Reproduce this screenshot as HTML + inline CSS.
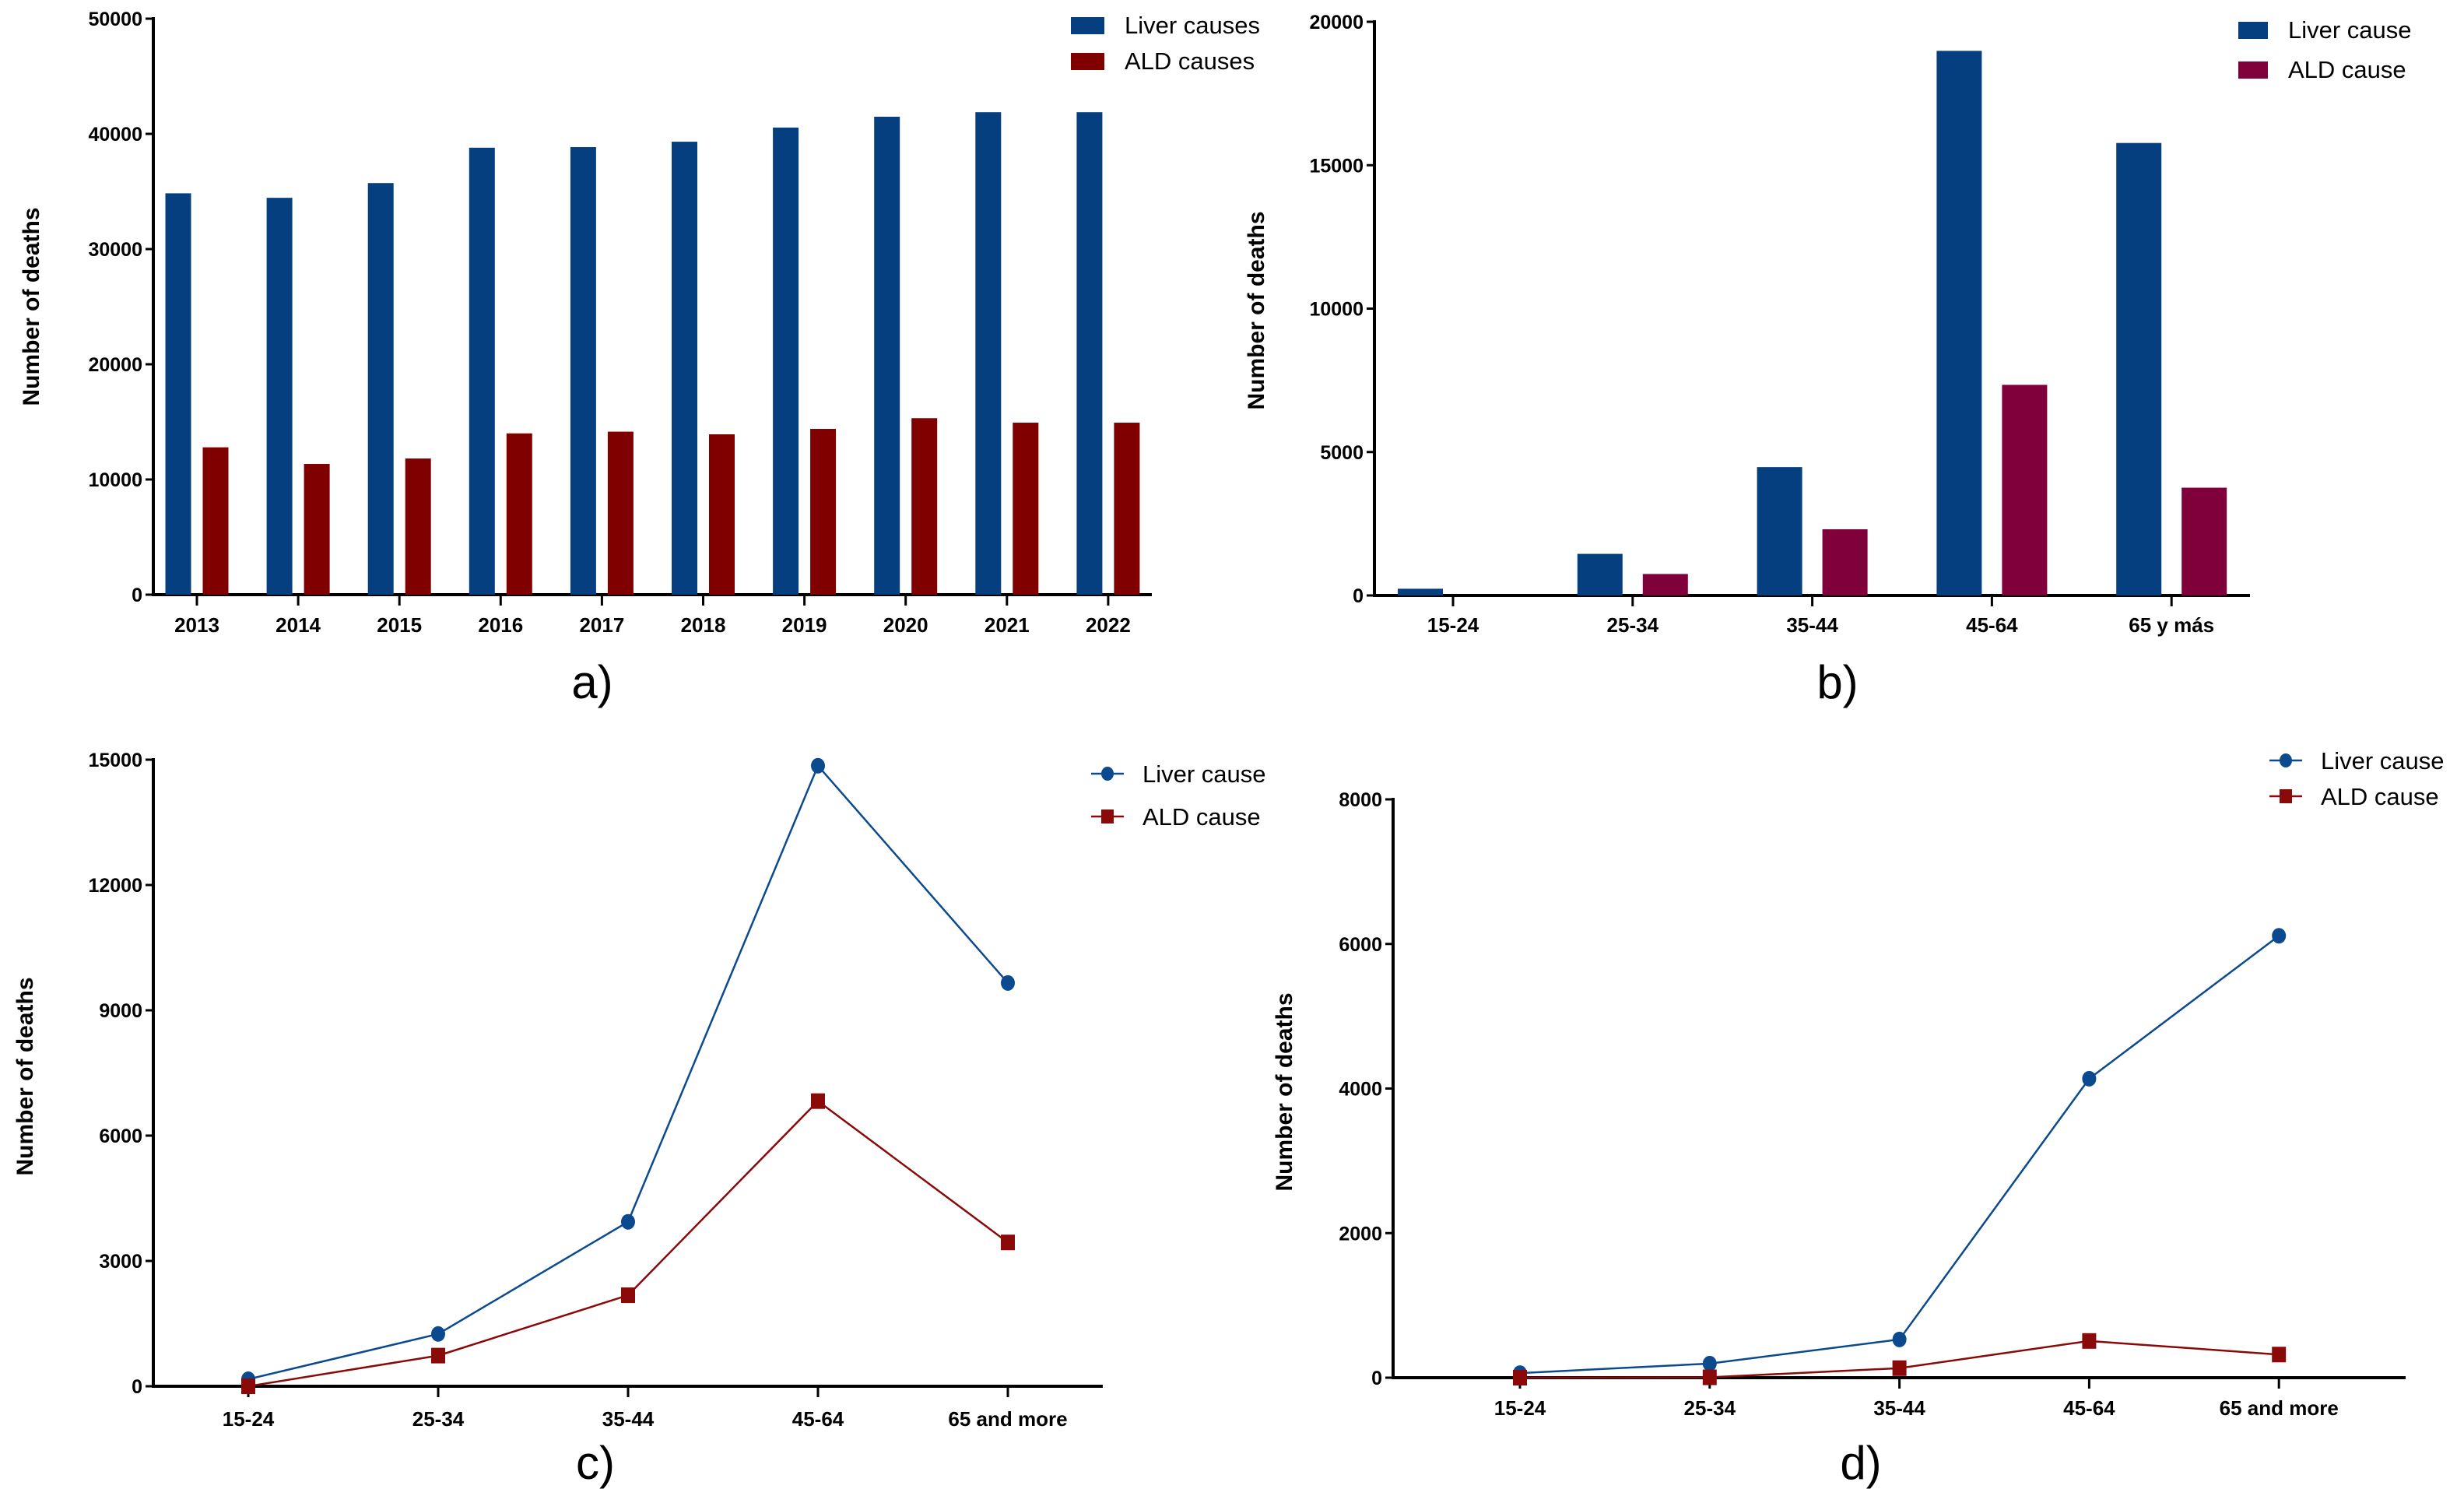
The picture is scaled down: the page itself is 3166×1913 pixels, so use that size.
<!DOCTYPE html>
<html><head><meta charset="utf-8"><style>
html,body{margin:0;padding:0;background:#fff}
svg{display:block}
text{font-family:"Liberation Sans",sans-serif}
</style></head><body>
<svg id="fig" width="3166" height="1913" viewBox="0 0 3166 1913" xmlns="http://www.w3.org/2000/svg"></svg>
<script>
const yearsA = ["2013","2014","2015","2016","2017","2018","2019","2020","2021","2022"];
const liverA = [34840,34450,35730,38800,38850,39320,40550,41490,41880,41880];
const aldA = [12790,11350,11820,14000,14150,13920,14390,15320,14930,14930];
const ticksA = [0,10000,20000,30000,40000,50000];

const ageB = ["15-24","25-34","35-44","45-64","65 y más"];
const liverB = [234,1450,4474,18987,15775];
const aldB = [0,748,2307,7342,3757];
const ticksB = [0,5000,10000,15000,20000];

const ageC = ["15-24","25-34","35-44","45-64","65 and more"];
const liverC = [169,1252,3937,14855,9655];
const aldC = [0,734,2179,6826,3443];
const ticksC = [0,3000,6000,9000,12000,15000];

const ageD = ["15-24","25-34","35-44","45-64","65 and more"];
const liverD = [63,195,529,4136,6113];
const aldD = [0,5,132,508,320];
const ticksD = [0,2000,4000,6000,8000];

const svg = document.getElementById('fig');
const NS = "http://www.w3.org/2000/svg";
function el(tag, attrs, parent){
  const e = document.createElementNS(NS, tag);
  for (const k in attrs) e.setAttribute(k, attrs[k]);
  (parent||svg).appendChild(e);
  return e;
}
function txt(s, attrs, parent){ const t = el('text', attrs, parent); t.textContent = s; return t; }

function axes(g, p, ticks, cats, title, label){
  const y = v => p.y0 - (v - 0) / p.max * (p.y0 - p.y1);
  const ax = el('line',{x1:p.x0,y1:p.y1-2,x2:p.x0,y2:p.y0+2,stroke:'#000','stroke-width':4},g);
   
  const bx = el('line',{x1:p.x0-2,y1:p.y0,x2:p.xEnd,y2:p.y0,stroke:'#000','stroke-width':4},g);
   
  ticks.forEach(v=>{
    el('line',{x1:p.x0-10,y1:y(v),x2:p.x0,y2:y(v),stroke:'#000','stroke-width':3},g);
    const t = txt(String(v),{x:p.x0-14,y:y(v)+9,'text-anchor':'end','font-size':25,'font-weight':'bold'},g);
     
  });
  cats.forEach((c,i)=>{
    const x = p.cx(i);
    el('line',{x1:x,y1:p.y0,x2:x,y2:p.y0+14,stroke:'#000','stroke-width':3},g);
    const t = txt(c,{x:x,y:p.labY,'text-anchor':'middle','font-size':26,'font-weight':'bold'},g);
     
  });
  const tt = txt(title,{x:0,y:0,'text-anchor':'middle','font-size':30,'font-weight':'bold',transform:`translate(${p.tx},${p.ty}) rotate(-90)`},g);
   
  const pl = txt(label,{x:p.lx,y:p.ly,'text-anchor':'middle','font-size':60},g);
   
  return y;
}

function barPanel(name, p, cats, s1, s2, ticks, c1, c2, n1, n2, label){
  const g = el('g',{});  
  const y = axes(g,p,ticks,cats,'Number of deaths',label);
  cats.forEach((c,i)=>{
    const x = p.cx(i);
    const b1 = el('rect',{x:x-p.off-p.bw/2,y:y(s1[i]),width:p.bw,height:p.y0-y(s1[i]),fill:c1},g);
     
    const b2 = el('rect',{x:x+p.off-p.bw/2,y:y(s2[i]),width:p.bw,height:p.y0-y(s2[i]),fill:c2},g);
     
  });
  [[n1,c1,p.lgY1],[n2,c2,p.lgY2]].forEach(([n,c,ly])=>{
    const lg = el('g',{},g);  
    el('rect',{x:p.lgX,y:ly,width:p.lgW,height:22,fill:c},lg);
    txt(n,{x:p.lgX+p.lgW+26,y:ly+21,'font-size':31},lg);
  });
}

function linePanel(name, p, cats, s1, s2, ticks, label){
  const g = el('g',{});  
  const y = axes(g,p,ticks,cats,'Number of deaths',label);
  const c1='#0b4a8e', c2='#8a0a0a';
  [[s1,c1,'liver'],[s2,c2,'ald']].forEach(([s,c,k])=>{
    const pts = s.map((v,i)=>p.cx(i)+','+y(v)).join(' ');
    const pl = el('polyline',{points:pts,fill:'none',stroke:c,'stroke-width':2.5},g);
     
    s.forEach((v,i)=>{
      let m;
      if(k==='liver') m = el('ellipse',{cx:p.cx(i),cy:y(v),rx:9,ry:10,fill:c},g);
      else m = el('rect',{x:p.cx(i)-9,y:y(v)-10,width:18,height:20,fill:c},g);
       
    });
  });
  [['Liver cause',c1,p.lgY1,'c'],['ALD cause',c2,p.lgY2,'s']].forEach(([n,c,ly,sh])=>{
    const lg = el('g',{},g);  
    el('line',{x1:p.lgX,y1:ly,x2:p.lgX+42,y2:ly,stroke:c,'stroke-width':2.5},lg);
    if(sh==='c') el('ellipse',{cx:p.lgX+21,cy:ly,rx:8,ry:9,fill:c},lg);
    else el('rect',{x:p.lgX+13,y:ly-9,width:16,height:18,fill:c},lg);
    txt(n,{x:p.lgX+66,y:ly+11,'font-size':31},lg);
  });
}

barPanel('chart-a',{x0:197,xEnd:1480,y0:764,y1:24,max:50000,cx:i=>253+i*130.1,off:24,bw:33,labY:812,
  tx:50,ty:394,lx:761,ly:897,lgX:1376,lgW:43,lgY1:22,lgY2:68},
  yearsA,liverA,aldA,ticksA,'#063f80','#800000','Liver causes','ALD causes','a)');
barPanel('chart-b',{x0:1766,xEnd:2891,y0:765,y1:28,max:20000,cx:i=>1867+i*230.8,off:42,bw:58,labY:812,
  tx:1624,ty:399,lx:2361,ly:897,lgX:2876,lgW:38,lgY1:28,lgY2:79},
  ageB,liverB,aldB,ticksB,'#063f80','#80003c','Liver cause','ALD cause','b)');
linePanel('chart-c',{x0:197,xEnd:1417,y0:1781,y1:976,max:15000,cx:i=>319+i*244,labY:1832,
  tx:42,ty:1383,lx:765,ly:1900,lgX:1402,lgY1:994,lgY2:1049},
  ageC,liverC,aldC,ticksC,'c)');
linePanel('chart-d',{x0:1790,xEnd:3091,y0:1770,y1:1027,max:8000,cx:i=>1953+i*243.8,labY:1818,
  tx:1660,ty:1403,lx:2391,ly:1900,lgX:2916,lgY1:977,lgY2:1023},
  ageD,liverD,aldD,ticksD,'d)');
</script>
</body></html>
